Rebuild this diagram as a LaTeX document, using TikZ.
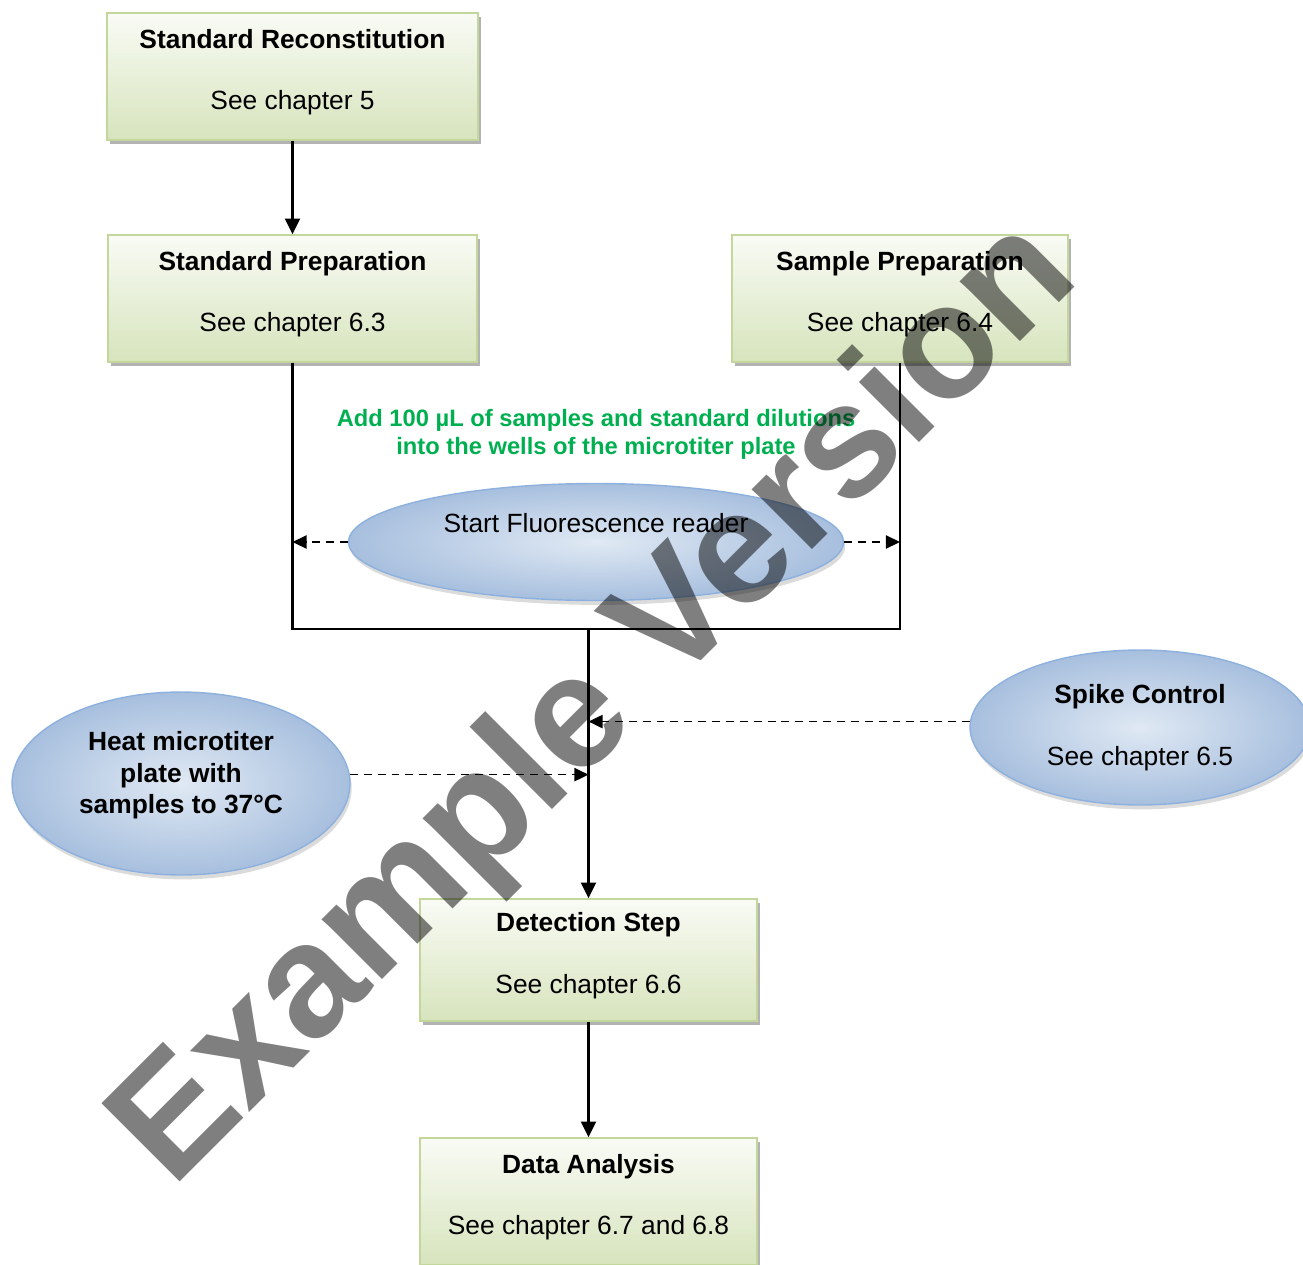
\documentclass[tikz,border=0pt]{standalone}
\usepackage{fontspec}
\setmainfont{Liberation Sans}
\usetikzlibrary{shapes.geometric,arrows.meta,shadows}
\definecolor{boxgreen}{RGB}{215,228,189}
\definecolor{boxedge}{RGB}{195,214,155}
\definecolor{ellblue}{RGB}{167,191,222}
\definecolor{ellpale}{RGB}{224,233,244}
\definecolor{elledge}{RGB}{141,177,222}
\definecolor{notegreen}{RGB}{0,176,80}

\begin{document}
\begin{tikzpicture}[x=0.02cm,y=-0.02cm,
        stepbox/.style={rectangle, draw=boxedge, line width=0.8pt,
            top color=boxgreen!15, bottom color=boxgreen,
            minimum height=2.54cm, align=center, text depth=8.1pt,
            font=\fontsize{15}{35.1}\selectfont,
            drop shadow={shadow xshift=1.8pt, shadow yshift=-2.3pt, fill=black!50, opacity=0.6}},
        bubble/.style={ellipse, draw=elledge, line width=0.8pt,
            inner color=ellpale, outer color=ellblue, align=center, inner sep=0pt,
            drop shadow={shadow xshift=1pt, shadow yshift=-2.5pt, fill=black!40, opacity=0.35}},
        flow/.style={line width=1.2pt},
        flowarrow/.style={flow, -{Triangle[length=9pt,width=8.5pt]}},
        dasharrow/.style={line width=0.95pt, dash pattern=on 4.5pt off 3.4pt,
            -{Triangle[length=8pt,width=7.5pt]}}]
    \useasboundingbox (0,0) rectangle (1303,1265);
    \clip (0,0) rectangle (1303,1265);

    % Preparation boxes
    \node[stepbox, minimum width=7.42cm] (recon) at (292.5,76.5) {\textbf{Standard Reconstitution}\\See chapter 5};
    \node[stepbox, minimum width=7.38cm] (stdprep) at (292.5,298.5) {\textbf{Standard Preparation}\\See chapter 6.3};
    \node[stepbox, minimum width=6.72cm] (smpprep) at (900,298.5) {\textbf{Sample Preparation}\\See chapter 6.4};

    % Pipetting note
    \node[font=\fontsize{13.5}{15.9}\selectfont\bfseries, text=notegreen, align=center, inner sep=0pt]
        (addnote) at (596,434.3) {Add 100 µL of samples and standard dilutions\\into the wells of the microtiter plate};

    % Side steps
    \node[bubble, minimum width=9.9cm, minimum height=2.34cm, text depth=22.1pt,
        font=\fontsize{15}{18}\selectfont] (reader) at (596,542) {Start Fluorescence reader};
    \node[bubble, minimum width=6.8cm, minimum height=3.1cm,
        font=\fontsize{15}{35.1}\selectfont] (spike) at (1140,727.5) {\textbf{Spike Control}\\See chapter 6.5};
    \node[bubble, minimum width=6.76cm, minimum height=3.66cm, text depth=12.5pt,
        font=\fontsize{15}{17.9}\selectfont\bfseries] (heat) at (181,783.5) {Heat microtiter\\plate with\\samples to 37°C};

    % Measurement boxes
    \node[stepbox, minimum width=6.74cm, minimum height=2.44cm] (detect) at (588.5,960) {\textbf{Detection Step}\\See chapter 6.6};
    \node[stepbox, minimum width=6.74cm] (data) at (588.5,1201.5) {\textbf{Data Analysis}\\See chapter 6.7 and 6.8};

    % Connectors
    \coordinate (junc) at (detect.north |- 0,629);
    \draw[flowarrow] (recon) -- (stdprep);
    \draw[flow] (stdprep.south) |- (junc) -| (smpprep.south);
    \draw[flowarrow] (junc) -- (detect);
    \draw[flowarrow] (detect) -- (data);
    \draw[dasharrow] (reader.west) -- (reader.west -| stdprep.south);
    \draw[dasharrow] (reader.east) -- (reader.east -| smpprep.south);
    \draw[dasharrow] (spike.178) -- (spike.178 -| junc);
    \draw[dasharrow] (heat.3) -- (heat.3 -| junc);

    % Watermark
    \node[anchor=base west, rotate=45, inner sep=0pt, text=black, text opacity=0.5,
        font=\fontsize{91.5}{92}\selectfont\bfseries] (stamp) at (172,1190) {Example Version};
\end{tikzpicture}
\end{document}
